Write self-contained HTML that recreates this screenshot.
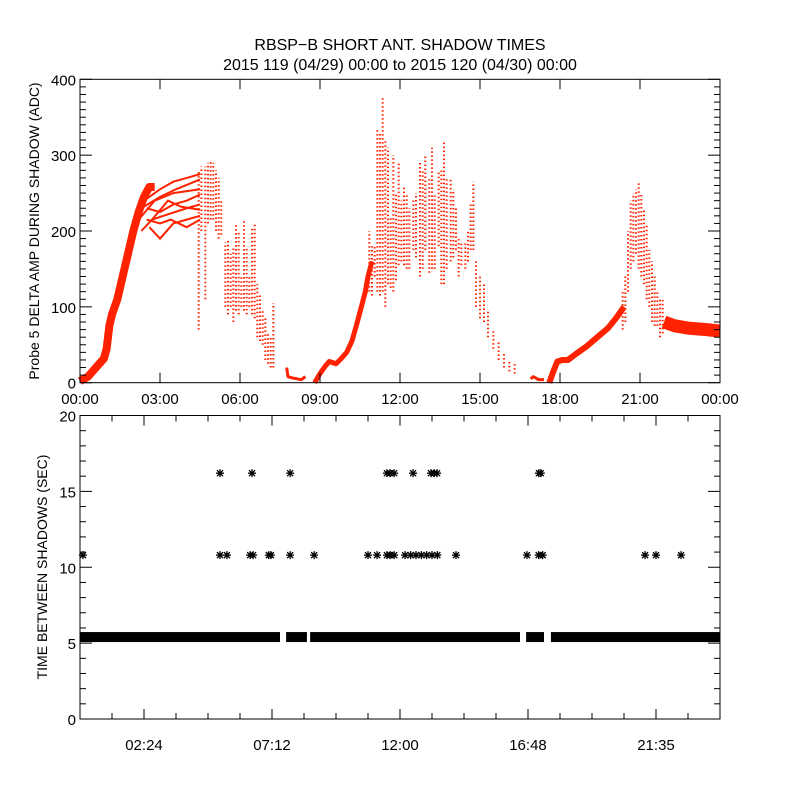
<!DOCTYPE html>
<html><head><meta charset="utf-8"><style>
html,body{margin:0;padding:0;background:#fff;}
svg{display:block;font-family:"Liberation Sans",sans-serif;}
</style></head><body>
<svg id="chart" width="800" height="800" viewBox="0 0 800 800">
<rect x="0" y="0" width="800" height="800" fill="#fff"/>
<text x="400" y="50" font-size="16" text-anchor="middle">RBSP−B SHORT ANT. SHADOW TIMES</text>
<text x="400" y="70" font-size="16" text-anchor="middle">2015 119 (04/29) 00:00 to 2015 120 (04/30) 00:00</text>
<g id="topPanel"></g>
<g id="botPanel"></g>
</svg>
<script>
// ---- top panel data (hours, ADC) ----
const riseTimes1 = [0.0,0.3,0.6,0.9,1.0,1.1,1.2,1.4,1.6,1.8,2.0,2.2,2.4,2.6,2.8];
const riseVals1  = [2,8,20,32,45,75,90,110,140,170,200,225,245,258,258];
const fanLines = [
  [[2.4,240],[3.0,255],[3.5,265],[4.0,270],[4.5,275]],
  [[2.3,230],[3.0,245],[3.6,255],[4.5,268]],
  [[2.2,215],[2.8,240],[3.5,250],[4.5,255]],
  [[2.5,230],[3.0,225],[3.5,235],[4.0,240],[4.5,248]],
  [[2.3,200],[2.7,215],[3.3,222],[4.0,230],[4.5,235]],
  [[2.6,205],[3.0,190],[3.5,210],[4.0,215],[4.5,220]],
  [[2.5,215],[3.0,210],[3.4,215],[4.0,205],[4.5,215]],
  [[2.7,215],[3.3,240],[3.8,232],[4.5,228]]
];
const lowTimes1 = [7.75,7.8,8.0,8.3,8.45];
const lowVals1  = [20,8,6,4,8];
const riseTimes2 = [8.8,9.0,9.2,9.35,9.6,9.8,10.0,10.2,10.4,10.55,10.7,10.8,10.95];
const riseVals2  = [0,12,22,28,25,32,40,55,80,100,120,140,160];
const lowTimes2 = [16.9,17.0,17.2,17.4];
const lowVals2  = [5,8,4,4];
const riseTimes3 = [17.6,17.75,17.9,18.1,18.3,18.6,19.0,19.4,19.8,20.1,20.4];
const riseVals3  = [0,15,28,30,30,38,48,60,72,85,100];
const tailTimes = [21.9,22.3,22.8,23.5,24.0];
const tailVals  = [80,75,72,70,68];
const streakTimes = [4.45,4.55,4.7,4.8,4.9,5.0,5.1,5.2,5.3,
 5.45,5.55,5.65,5.75,5.85,5.95,6.05,6.15,6.25,6.35,6.45,6.55,6.65,6.75,6.85,6.95,7.05,7.15,7.25,
 10.85,10.95,11.05,11.15,11.25,11.35,11.45,11.55,11.65,11.75,11.85,11.95,12.05,12.15,12.25,12.35,12.5,12.6,12.75,12.85,12.95,13.1,13.2,13.3,13.45,13.55,13.65,13.75,13.9,14.0,14.1,14.2,14.3,14.45,14.55,14.65,14.75,
 14.85,15.0,15.15,15.3,15.5,15.7,15.9,16.1,16.3,
 20.35,20.45,20.55,20.65,20.75,20.85,20.95,21.05,21.15,21.25,21.35,21.45,21.55,21.65,21.75,21.85];
const streakLows = [70,200,110,210,215,215,200,190,195,
 100,90,100,80,95,90,100,95,90,100,90,85,60,55,50,30,25,20,20,
 120,115,140,120,115,120,100,130,125,120,135,155,160,155,150,150,175,165,140,150,175,145,150,150,180,130,130,150,160,165,175,140,155,150,160,175,175,
 100,85,80,60,45,30,20,15,12,
 70,80,120,150,160,170,150,140,130,110,100,80,75,75,60,65];
const streakHighs = [280,285,285,290,292,290,280,270,240,
 185,190,170,180,210,200,140,215,180,140,205,210,130,115,95,85,65,60,105,
 200,180,180,335,330,375,320,310,220,300,250,290,240,260,250,230,240,250,290,280,300,270,310,250,280,280,320,270,270,255,230,190,185,185,200,235,265,
 160,140,130,95,70,55,40,30,25,
 120,140,200,240,250,255,265,250,230,210,175,160,140,120,110,110];
const topXTicks = ["00:00","03:00","06:00","09:00","12:00","15:00","18:00","21:00","00:00"];
const topYTicks = ["0","100","200","300","400"];
// ---- bottom panel data (hours, seconds) ----
const bandStarts = [0,7.73,8.63,16.73,17.66];
const bandEnds   = [7.5,8.51,16.5,17.4,24];
const bandValue  = 5.4;
const stars16Times = [5.25,6.45,7.88,11.51,11.63,11.78,12.49,13.16,13.28,13.39,17.21,17.28];
const stars16Value = 16.2;
const stars11Times = [0.11,5.25,5.51,6.38,6.49,7.08,7.16,7.88,8.78,10.8,11.14,11.51,11.63,11.78,12.19,12.4,12.6,12.8,13.0,13.2,13.4,14.1,16.76,17.2,17.35,21.19,21.6,22.54];
const stars11Value = 10.8;
const botXTicks = ["02:24","07:12","12:00","16:48","21:35"];
const botYTicks = ["0","5","10","15","20"];

const NS="http://www.w3.org/2000/svg";
function mk(parent,tag,attrs){const e=document.createElementNS(NS,tag);for(const k in attrs)e.setAttribute(k,attrs[k]);parent.appendChild(e);return e;}
const L=80,R=720;
const xS=h=>L+h*(R-L)/24;
// top
const T0=79.3,B0=382.7;
const yT=v=>B0-v*(B0-T0)/400;
const topG=document.getElementById('topPanel');
const RED="#ff2200";
function poly(ts,vs,w,name){
  const p=mk(topG,'polyline',{points:ts.map((t,i)=>xS(t)+','+yT(vs[i])).join(' '),fill:'none',stroke:RED,'stroke-width':w,'stroke-linejoin':'round'});
  
  
}
poly(riseTimes1,riseVals1,8,'morning-rise-band');
fanLines.forEach((ln,i)=>{
  const p=mk(topG,'polyline',{points:ln.map(q=>xS(q[0])+','+yT(q[1])).join(' '),fill:'none',stroke:RED,'stroke-width':2});
  
  
});
poly(lowTimes1,lowVals1,3,'eclipse-low-1');
poly(riseTimes2,riseVals2,5,'midday-rise-band');
poly(lowTimes2,lowVals2,3,'eclipse-low-2');
poly(riseTimes3,riseVals3,6,'evening-rise-band');
poly(tailTimes,tailVals,13,'night-tail-band');
streakTimes.forEach((t,i)=>{
  const s=mk(topG,'line',{x1:xS(t),x2:xS(t),y1:yT(streakLows[i]),y2:yT(streakHighs[i]),stroke:RED,'stroke-width':2,'stroke-dasharray':'1.5 2.5'});
  
  
});
function frame(g,T,B,name){
  const r=mk(g,'rect',{x:L,y:T,width:R-L,height:B-T,fill:'none',stroke:'#000','stroke-width':1});
  
  
}
frame(topG,T0,B0,'top-plot-frame');
for(let v=0;v<=400;v+=10){
  const len=v%100===0?12:6,y=yT(v);
  mk(topG,'line',{x1:L,x2:L+len,y1:y,y2:y,stroke:'#000'});
  mk(topG,'line',{x1:R,x2:R-len,y1:y,y2:y,stroke:'#000'});
}
topYTicks.forEach((lab,i)=>{
  const t=mk(topG,'text',{x:L-4,y:yT(i*100)+6,'font-size':15,'text-anchor':'end'});t.textContent=lab;
  
  
});
topXTicks.forEach((lab,i)=>{
  const x=xS(i*3);
  mk(topG,'line',{x1:x,x2:x,y1:B0,y2:B0-10,stroke:'#000'});
  mk(topG,'line',{x1:x,x2:x,y1:T0,y2:T0+10,stroke:'#000'});
  const t=mk(topG,'text',{x:x,y:404,'font-size':15,'text-anchor':'middle'});t.textContent=lab;
  
  
});
const yl=mk(topG,'text',{x:0,y:0,'font-size':14,'text-anchor':'middle',transform:'translate(39,231) rotate(-90)'});
yl.textContent='Probe 5 DELTA AMP DURING SHADOW (ADC)';


// bottom
const T1=415.5,B1=719;
const yB=v=>B1-v*(B1-T1)/20;
const botG=document.getElementById('botPanel');
bandStarts.forEach((s,i)=>{
  const r=mk(botG,'rect',{x:xS(s),y:yB(bandValue)-5,width:xS(bandEnds[i])-xS(s),height:10,fill:'#000'});
  
  
});
function star(t,v){
  const g=mk(botG,'g',{transform:'translate('+xS(t)+','+yB(v)+')',stroke:'#000','stroke-width':1.3});
  
  
  mk(g,'line',{x1:-4,x2:4,y1:0,y2:0});mk(g,'line',{x1:0,x2:0,y1:-4,y2:4});
  mk(g,'line',{x1:-3,x2:3,y1:-3,y2:3});mk(g,'line',{x1:-3,x2:3,y1:3,y2:-3});
}
stars16Times.forEach(t=>star(t,stars16Value));
stars11Times.forEach(t=>star(t,stars11Value));
frame(botG,T1,B1,'bottom-plot-frame');
for(let v=0;v<=20;v++){
  const len=v%5===0?12:6,y=yB(v);
  mk(botG,'line',{x1:L,x2:L+len,y1:y,y2:y,stroke:'#000'});
  mk(botG,'line',{x1:R,x2:R-len,y1:y,y2:y,stroke:'#000'});
}
botYTicks.forEach((lab,i)=>{
  const t=mk(botG,'text',{x:L-4,y:yB(i*5)+6,'font-size':15,'text-anchor':'end'});t.textContent=lab;
  
  
});
for(let k=1;k<20;k++){
  const x=xS(k*1.2),len=k%4===2?10:6;
  mk(botG,'line',{x1:x,x2:x,y1:B1,y2:B1-len,stroke:'#000'});
  mk(botG,'line',{x1:x,x2:x,y1:T1,y2:T1+len,stroke:'#000'});
}
botXTicks.forEach((lab,i)=>{
  const t=mk(botG,'text',{x:xS(2.4+i*4.8),y:750,'font-size':15,'text-anchor':'middle'});t.textContent=lab;
  
  
});
const yl2=mk(botG,'text',{x:0,y:0,'font-size':14,'text-anchor':'middle',transform:'translate(47,567) rotate(-90)'});
yl2.textContent='TIME BETWEEN SHADOWS (SEC)';


</script>
</body></html>
